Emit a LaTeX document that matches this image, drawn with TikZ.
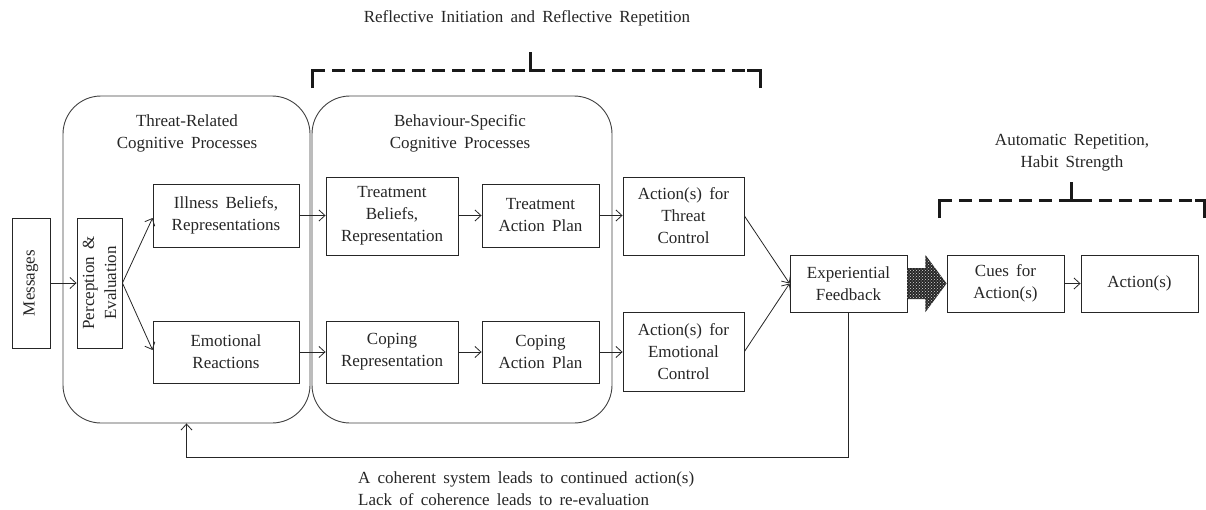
\documentclass[tikz,border=0pt]{standalone}
\usepackage{fontspec}
\setmainfont{Liberation Serif}[WordSpace=1.7]
\usetikzlibrary{arrows.meta,patterns,calc}
\begin{document}
\begin{tikzpicture}[x=1pt,y=-1pt,
  txt/.style={font=\fontsize{17}{22}\selectfont, text=black!85, align=center, inner sep=0pt},
  box/.style={txt, draw=black!85, line width=0.9pt, rectangle},
  rbox/.style={draw=black!75, line width=0.9pt, rounded corners=38pt, inner sep=0pt},
  arr/.style={-{Straight Barb[length=6pt,width=11pt]}, line width=0.8pt, draw=black!85},
  brk/.style={line width=3pt, draw=black!90},
  brkdash/.style={brk, dash pattern=on 13pt off 7pt}
]
\useasboundingbox (0,0) rectangle (1206,509);

% group boxes
\node[rbox, minimum width=247pt, minimum height=327pt] (threatbox) at (186.5,259.5) {};
\node[rbox, minimum width=300pt, minimum height=327pt] (behavbox) at (462,259.5) {};
\node[txt] (threattitle) at (187,133.5) {Threat-Related\\Cognitive Processes};
\node[txt] (behavtitle) at (460,133.5) {Behaviour-Specific\\Cognitive Processes};

% nodes
\node[box, rotate=90, minimum width=130pt, minimum height=38pt] (msg) at (31,283) {Messages};
\node[box, rotate=90, minimum width=130pt, minimum height=45pt] (perc) at (99.5,283) {Perception \&\\Evaluation};
\node[box, minimum width=146pt, minimum height=63pt] (ill) at (226,215.5) {Illness Beliefs,\\Representations};
\node[box, minimum width=146pt, minimum height=62pt] (emo) at (226,352) {Emotional\\Reactions};
\node[box, minimum width=132pt, minimum height=78pt] (tbel) at (392,216) {Treatment\\Beliefs,\\Representation};
\node[box, minimum width=117pt, minimum height=63pt] (tplan) at (540.5,215.5) {Treatment\\Action Plan};
\node[box, minimum width=132pt, minimum height=62pt] (crep) at (392,352) {Coping\\Representation};
\node[box, minimum width=117pt, minimum height=62pt] (cplan) at (540.5,352) {Coping\\Action Plan};
\node[box, minimum width=121pt, minimum height=78pt] (tctl) at (683.5,216) {Action(s) for\\Threat\\Control};
\node[box, minimum width=121pt, minimum height=79pt] (ectl) at (683.5,351.5) {Action(s) for\\Emotional\\Control};
\node[box, minimum width=117pt, minimum height=57pt] (exp) at (848.5,283.5) {Experiential\\Feedback};
\node[box, minimum width=117pt, minimum height=57pt] (cues) at (1005.5,283.5) {Cues for\\Action(s)};
\node[box, minimum width=117pt, minimum height=57pt] (act) at (1139.5,283.5) {Action(s)};

% connectors
\draw[arr] (msg.south) -- (perc.north);
\draw[arr] (perc.south) -- ($(ill.west)+(0,2.5)$);
\draw[arr] (perc.south) -- ($(emo.west)+(0,-2)$);
\draw[arr] (ill.east) -- (ill.east -| tbel.west);
\draw[arr] (emo.east) -- (emo.east -| crep.west);
\draw[arr] (tbel.east |- tplan.east) -- (tplan.west);
\draw[arr] (crep.east) -- (cplan.west);
\draw[arr] (tplan.east) -- (tplan.east -| tctl.west);
\draw[arr] (cplan.east) -- (cplan.east -| ectl.west);
\draw[arr] (tctl.east) -- (exp.west);
\draw[arr] (ectl.east) -- (exp.west);
\draw[arr] (cues.east) -- (act.west);

% big patterned arrow
\path[fill=black!85, postaction={pattern=crosshatch dots, pattern color=white!85!black}]
  ($(exp.east)+(0,-15.5)$) -- ++(18,0) -- ++(0,-13) -- (cues.west) -- ($(exp.east)+(18,28.5)$) -- ++(0,-13) -- ($(exp.east)+(0,15.5)$) -- cycle;

% feedback loop
\coordinate (fbc) at (186.5,457);
\draw[arr] (exp.south) |- (fbc) -- (threatbox.south);

% brackets
\draw[brkdash] (312,70) -- (760,70);
\draw[brk] (312,88) -- (312,70) -- (325,70);
\draw[brk] (760,88) -- (760,70) -- (747,70);
\draw[brk] (530,52) -- (530,70) -- (543,70);
\node[txt] (reflect) at (527,18) {Reflective Initiation and Reflective Repetition};

\draw[brkdash] (939,200) -- (1204.5,200);
\draw[brk] (939,218) -- (939,200) -- (952,200);
\draw[brk] (1204.5,218) -- (1204.5,200) -- (1195,200);
\draw[brk] (1071,182) -- (1071,200) -- (1084,200);
\node[txt] (auto) at (1072,153) {Automatic Repetition,\\Habit Strength};

% bottom text
\node[txt, align=left, anchor=west] (note) at (358,489) {A coherent system leads to continued action(s)\\Lack of coherence leads to re-evaluation};
\end{tikzpicture}
\end{document}
